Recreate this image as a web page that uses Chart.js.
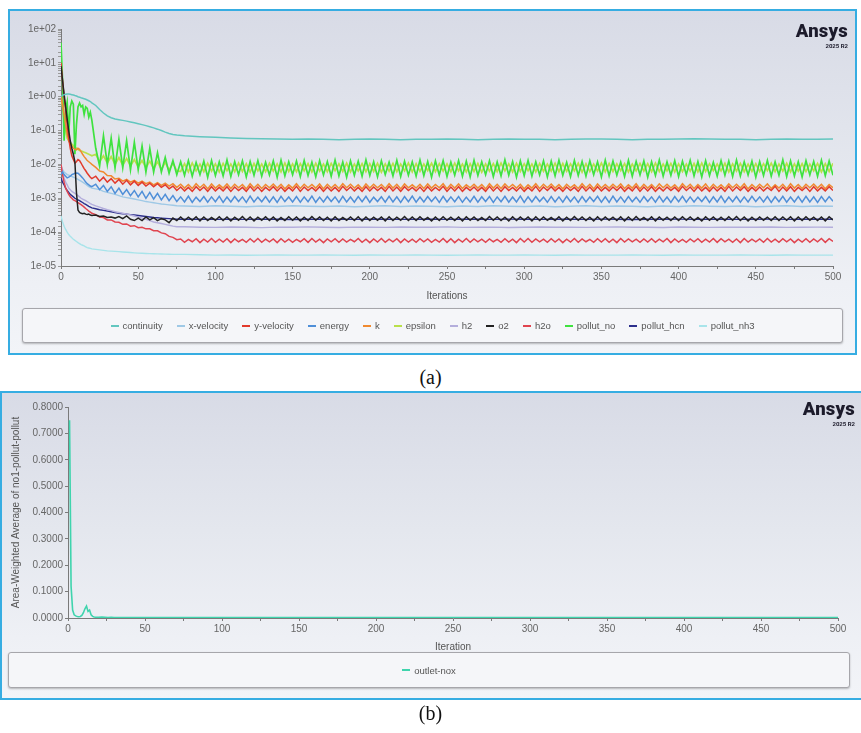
<!DOCTYPE html>
<html><head><meta charset="utf-8">
<script src="https://cdn.jsdelivr.net/npm/chart.js@4.4.1/dist/chart.umd.min.js"></script>
<style>
html,body{margin:0;padding:0;background:#fff;}
body{width:861px;height:733px;position:relative;overflow:hidden;font-family:"Liberation Sans",Arial,sans-serif;}
.frame{position:absolute;box-sizing:border-box;border:2px solid #36ade2;background:linear-gradient(180deg,#d8dbe6 0%,#e4e7ee 45%,#eef0f5 80%,#f2f4f8 100%);}
.frame canvas{position:absolute;left:0;top:0;}
.legend{position:absolute;box-sizing:border-box;border:1.5px solid #a6a6ab;border-radius:3px;background:#f5f6f9;box-shadow:0 1px 2px rgba(0,0,0,0.25);display:flex;align-items:center;justify-content:center;font-size:9.5px;color:#555;white-space:nowrap;}
.legend span{display:inline-flex;align-items:center;margin:0 7px;}
.legend i{display:inline-block;width:8px;height:2px;margin-right:4px;}
.logo{position:absolute;text-align:right;color:#1c1b2b;font-family:Roboto,"Liberation Sans",sans-serif;font-weight:900;line-height:1;}
.caption{position:absolute;left:0;width:861px;text-align:center;font-family:"Liberation Serif",serif;font-size:20px;color:#111;line-height:1;}
</style></head>
<body>
<div class="frame" id="frameA" style="left:8px;top:9px;width:849px;height:346px;"><canvas id="chartA" width="845" height="342"></canvas></div>
<div class="legend" id="legendA" style="left:22px;top:308px;width:821px;height:35px;"></div>
<div class="logo" style="right:13px;top:22px;font-size:18.5px;letter-spacing:0.2px;">Ansys</div>
<div class="logo" style="right:13px;top:43px;font-size:6px;font-weight:700;">2025 R2</div>
<div class="caption" style="top:367px;">(a)</div>

<div class="frame" id="frameB" style="left:0px;top:391px;width:861px;height:309px;border-right:none;"><canvas id="chartB" width="859" height="305"></canvas></div>
<div class="legend" id="legendB" style="left:8px;top:652px;width:842px;height:36px;"></div>
<div class="logo" style="right:6px;top:400px;font-size:18.5px;letter-spacing:0.2px;">Ansys</div>
<div class="logo" style="right:6px;top:421px;font-size:6px;font-weight:700;">2025 R2</div>
<div class="caption" style="top:703px;">(b)</div>

<script>
// ---------- chart (a): residuals ----------
const seriesNames = ['continuity','x-velocity','y-velocity','energy','k','epsilon','h2','o2','h2o','pollut_no','pollut_hcn','pollut_nh3'];
const seriesColors = ['#62c6bf','#9fc9e6','#e23a2c','#4f8fd8','#f08a30','#b9e04a','#b4aedc','#222222','#e0444f','#3fe23f','#2c2f8c','#a8e4ea'];

const iterations = [0,1,2,3,4,5,6,7,8,9,10,11,12,13,14,15,16,17,18,19,20,
22.5,25,27.5,30,32.5,35,37.5,40,42.5,45,47.5,50,52.5,55,57.5,60,62.5,65,67.5,70,72.5,75,
77.5,80,82.5,85,87.5,90,92.5,95,97.5,100,
102.5,105,107.5,110,112.5,115,117.5,120,122.5,125,
127.5,130,132.5,135,137.5,140,142.5,145,147.5,150,
152.5,155,157.5,160,162.5,165,167.5,170,172.5,175,
177.5,180,182.5,185,187.5,190,192.5,195,197.5,200,
202.5,205,207.5,210,212.5,215,217.5,220,222.5,225,
227.5,230,232.5,235,237.5,240,242.5,245,247.5,250,
252.5,255,257.5,260,262.5,265,267.5,270,272.5,275,
277.5,280,282.5,285,287.5,290,292.5,295,297.5,300,
302.5,305,307.5,310,312.5,315,317.5,320,322.5,325,
327.5,330,332.5,335,337.5,340,342.5,345,347.5,350,
352.5,355,357.5,360,362.5,365,367.5,370,372.5,375,
377.5,380,382.5,385,387.5,390,392.5,395,397.5,400,
402.5,405,407.5,410,412.5,415,417.5,420,422.5,425,
427.5,430,432.5,435,437.5,440,442.5,445,447.5,450,
452.5,455,457.5,460,462.5,465,467.5,470,472.5,475,
477.5,480,482.5,485,487.5,490,492.5,495,497.5,500];

const iterationsSmooth = [0,1,2,3,4,5,6,7,8,9,10,11,12,13,14,15,16,17,18,19,20,
22.5,25,27.5,30,32.5,35,37.5,40,42.5,45,47.5,50,52.5,55,57.5,60,62.5,65,67.5,70,72.5,75,
80,90,100,110,120,130,140,150,160,170,180,190,200,210,220,230,240,250,260,270,280,290,300,
310,320,330,340,350,360,370,380,390,400,410,420,430,440,450,460,470,480,490,500];

// smooth-grid series
const continuityRes = [1.05,1.1,1.15,1.18,1.2,1.2,1.18,1.15,1.12,1.08,1.05,1.0,0.97,0.93,0.9,0.87,0.84,0.8,0.76,0.72,0.66,
0.55,0.42,0.33,0.27,0.24,0.22,0.21,0.2,0.19,0.18,0.17,0.16,0.15,0.14,0.13,0.12,0.11,0.1,0.09,0.082,0.077,0.074,
0.07,0.066,0.063,0.06,0.058,0.057,0.056,0.055,0.056,0.055,0.054,0.055,0.056,0.055,0.054,0.055,0.055,0.056,0.055,0.054,
0.055,0.056,0.055,0.055,0.054,0.055,0.056,0.056,0.055,0.054,0.055,0.055,0.056,0.057,0.056,0.055,0.055,0.054,0.055,0.056,
0.055,0.055,0.056];

const xVelocityRes = [0.009,0.007,0.006,0.0055,0.005,0.0048,0.0046,0.0044,0.0042,0.004,0.0038,0.0036,0.0034,0.0032,0.003,0.0028,0.0026,0.0024,0.0022,0.0021,0.002,
0.0019,0.0018,0.0016,0.0015,0.0014,0.0013,0.0012,0.0011,0.00105,0.001,0.00095,0.0009,0.00085,0.0008,0.00077,0.00074,0.00071,0.00068,0.00066,0.00064,0.00062,0.0006,
5.9e-4,5.7e-4,6.0e-4,5.8e-4,5.6e-4,5.9e-4,5.7e-4,6.0e-4,5.8e-4,5.7e-4,5.9e-4,5.6e-4,5.8e-4,6.0e-4,5.7e-4,5.9e-4,5.8e-4,5.6e-4,5.9e-4,5.7e-4,
6.0e-4,5.8e-4,5.7e-4,5.9e-4,5.6e-4,5.8e-4,6.0e-4,5.7e-4,5.9e-4,5.8e-4,5.6e-4,5.9e-4,5.7e-4,6.0e-4,5.8e-4,5.7e-4,5.9e-4,5.6e-4,5.8e-4,6.0e-4,
5.7e-4,5.9e-4,5.8e-4];

const h2Res = [0.01,0.006,0.004,0.003,0.0025,0.002,0.0018,0.0016,0.0015,0.0014,0.0013,0.0012,0.0011,0.001,9.5e-4,9e-4,8.5e-4,8e-4,7.5e-4,7e-4,6.6e-4,
6e-4,5.5e-4,5e-4,4.6e-4,4.3e-4,4e-4,3.8e-4,3.6e-4,3.4e-4,3.2e-4,3e-4,2.8e-4,2.6e-4,2.4e-4,2.2e-4,2e-4,1.9e-4,1.8e-4,1.7e-4,1.6e-4,1.5e-4,1.45e-4,
1.45e-4,1.4e-4,1.38e-4,1.42e-4,1.4e-4,1.36e-4,1.41e-4,1.39e-4,1.43e-4,1.4e-4,1.37e-4,1.41e-4,1.4e-4,1.38e-4,1.42e-4,1.39e-4,1.4e-4,1.43e-4,1.38e-4,1.4e-4,
1.41e-4,1.37e-4,1.4e-4,1.42e-4,1.39e-4,1.4e-4,1.38e-4,1.41e-4,1.43e-4,1.39e-4,1.4e-4,1.37e-4,1.42e-4,1.4e-4,1.38e-4,1.41e-4,1.39e-4,1.4e-4,1.42e-4,1.38e-4,
1.4e-4,1.41e-4,1.39e-4];

const pollutHcnRes = [0.004,0.003,0.0025,0.002,0.0017,0.0015,0.0013,0.0012,0.0011,0.001,9.5e-4,9e-4,8.5e-4,8e-4,7.5e-4,7e-4,6.6e-4,6.2e-4,5.8e-4,5.5e-4,5.2e-4,
4.9e-4,4.6e-4,4.4e-4,4.2e-4,4e-4,3.8e-4,3.6e-4,3.5e-4,3.4e-4,3.3e-4,3.2e-4,3.1e-4,3e-4,2.9e-4,2.8e-4,2.7e-4,2.65e-4,2.6e-4,2.55e-4,2.5e-4,2.45e-4,2.4e-4,
2.4e-4,2.42e-4,2.38e-4,2.41e-4,2.39e-4,2.43e-4,2.4e-4,2.37e-4,2.41e-4,2.4e-4,2.42e-4,2.38e-4,2.4e-4,2.41e-4,2.39e-4,2.4e-4,2.43e-4,2.38e-4,2.4e-4,2.41e-4,
2.39e-4,2.42e-4,2.4e-4,2.38e-4,2.41e-4,2.4e-4,2.39e-4,2.42e-4,2.4e-4,2.37e-4,2.41e-4,2.4e-4,2.42e-4,2.39e-4,2.4e-4,2.41e-4,2.38e-4,2.4e-4,2.42e-4,2.39e-4,
2.4e-4,2.41e-4,2.4e-4];

const pollutNh3Res = [3e-4,2e-4,1.5e-4,1.2e-4,1e-4,8.5e-5,7.5e-5,6.8e-5,6.2e-5,5.7e-5,5.3e-5,4.9e-5,4.6e-5,4.3e-5,4.1e-5,3.9e-5,3.7e-5,3.5e-5,3.4e-5,3.3e-5,3.2e-5,
3.1e-5,3e-5,2.9e-5,2.8e-5,2.75e-5,2.7e-5,2.65e-5,2.6e-5,2.55e-5,2.5e-5,2.45e-5,2.4e-5,2.38e-5,2.35e-5,2.32e-5,2.3e-5,2.28e-5,2.26e-5,2.24e-5,2.22e-5,2.21e-5,2.2e-5,
2.2e-5,2.15e-5,2.1e-5,2.12e-5,2.08e-5,2.1e-5,2.11e-5,2.09e-5,2.1e-5,2.12e-5,2.1e-5,2.08e-5,2.11e-5,2.1e-5,2.09e-5,2.12e-5,2.1e-5,2.08e-5,2.1e-5,2.11e-5,
2.09e-5,2.1e-5,2.12e-5,2.1e-5,2.08e-5,2.11e-5,2.1e-5,2.09e-5,2.1e-5,2.12e-5,2.1e-5,2.08e-5,2.11e-5,2.1e-5,2.09e-5,2.1e-5,2.12e-5,2.1e-5,2.08e-5,2.11e-5,
2.1e-5,2.09e-5,2.1e-5];

// dense-grid series
const pollutNoRes = [40,3,0.05,0.4,0.7,0.08,0.5,0.75,0.6,0.02,0.15,0.5,0.65,0.5,0.55,0.3,0.5,0.45,0.25,0.35,0.2,
0.03,0.009,0.07,0.01,0.06,0.008,0.055,0.008,0.05,0.007,0.045,0.007,0.035,0.006,0.03,0.006,0.022,0.006,0.016,0.0055,0.013,0.005,
0.012,0.0048,0.013,0.0045,0.0115,0.005,0.0125,0.0042,0.013,0.0047,
0.0118,0.0046,0.0135,0.0044,0.012,0.005,0.0128,0.0043,0.0122,0.0048,
0.013,0.0045,0.0116,0.0049,0.0127,0.0042,0.0133,0.0046,0.0119,0.005,
0.0126,0.0044,0.0131,0.0047,0.0117,0.0043,0.0129,0.0049,0.0121,0.0045,
0.0134,0.0046,0.0118,0.0042,0.0127,0.0048,0.0123,0.0045,0.0136,0.0047,
0.012,0.0043,0.0128,0.005,0.0116,0.0046,0.0132,0.0044,0.0124,0.0048,
0.0119,0.0045,0.0135,0.0047,0.0122,0.0042,0.0127,0.0049,0.013,0.0044,
0.0117,0.0048,0.0129,0.0045,0.0125,0.0043,0.0133,0.0047,0.012,0.005,
0.0128,0.0044,0.0118,0.0046,0.0136,0.0048,0.0121,0.0042,0.0126,0.0047,
0.0131,0.0045,0.0119,0.0049,0.0127,0.0043,0.0124,0.0046,0.0134,0.0048,
0.0116,0.0044,0.013,0.0047,0.0122,0.0045,0.0128,0.005,0.0119,0.0043,
0.0133,0.0046,0.0125,0.0048,0.0117,0.0044,0.0131,0.0045,0.0123,0.0049,
0.0127,0.0042,0.012,0.0047,0.0135,0.0045,0.0118,0.0048,0.0129,0.0044,
0.0124,0.005,0.0132,0.0046,0.0121,0.0043,0.0128,0.0047,0.0116,0.0045,
0.013,0.0048,0.0126,0.0044,0.0134,0.0046,0.0119,0.0049,0.0125,0.0042,
0.0122,0.0047,0.0131,0.0045,0.0118,0.0048,0.0136,0.0044,0.0127,0.0046,
0.012,0.0043,0.0129,0.0049,0.0123,0.0045,0.0133,0.0047,0.0126,0.0048];

const epsilonRes = [1.0,0.5,0.2,0.1,0.06,0.05,0.045,0.04,0.036,0.033,0.03,0.028,0.026,0.025,0.024,0.023,0.022,0.021,0.02,0.019,0.018,
0.02,0.012,0.018,0.011,0.017,0.01,0.016,0.0095,0.015,0.009,0.014,0.0085,0.013,0.008,0.0125,0.0075,0.012,0.007,0.0115,0.0068,0.011,0.0065,
0.0062,0.0105,0.006,0.011,0.0064,0.0102,0.0061,0.0108,0.0063,0.0104,
0.006,0.0107,0.0065,0.0103,0.0061,0.0109,0.0062,0.0105,0.0059,0.0106,
0.0064,0.0102,0.0061,0.0108,0.0063,0.0104,0.006,0.011,0.0062,0.0103,
0.0061,0.0106,0.0064,0.0105,0.006,0.0108,0.0063,0.0102,0.0061,0.0107,
0.0065,0.0104,0.0062,0.0109,0.006,0.0103,0.0064,0.0106,0.0061,0.0105,
0.0062,0.0108,0.0059,0.0104,0.0063,0.0107,0.0061,0.0102,0.0064,0.011,
0.006,0.0105,0.0062,0.0103,0.0065,0.0108,0.0061,0.0106,0.0063,0.0104,
0.0061,0.0109,0.0064,0.0102,0.006,0.0105,0.0062,0.0107,0.0059,0.0103,
0.0063,0.0106,0.0061,0.011,0.0064,0.0104,0.006,0.0108,0.0062,0.0105,
0.0065,0.0103,0.006,0.0107,0.0062,0.0102,0.0063,0.0109,0.0061,0.0106,
0.0062,0.0104,0.0064,0.0108,0.0059,0.0105,0.0061,0.0103,0.0063,0.011,
0.006,0.0107,0.0062,0.0104,0.0065,0.0106,0.006,0.0102,0.0064,0.0108,
0.0063,0.0105,0.0061,0.0109,0.0062,0.0103,0.0064,0.0107,0.006,0.0104,
0.0061,0.0102,0.0063,0.0106,0.006,0.011,0.0062,0.0105,0.0065,0.0103,
0.0064,0.0108,0.006,0.0104,0.0063,0.0107,0.0061,0.0102,0.0062,0.0106,
0.0062,0.0105,0.0065,0.0109,0.0061,0.0103,0.0063,0.0108,0.006,0.0104,
0.0063,0.0106,0.0061,0.0102,0.0064,0.0107,0.006,0.0105,0.0062,0.0108];

const kRes = [1.0,0.6,0.3,0.15,0.08,0.05,0.04,0.035,0.03,0.028,0.027,0.03,0.028,0.024,0.02,0.017,0.015,0.013,0.012,0.011,0.01,
0.0082,0.0064,0.006,0.0047,0.0046,0.0037,0.0039,0.0032,0.0036,0.003,0.0034,0.0028,0.0032,0.0027,0.003,0.0025,0.0029,0.0024,0.0028,0.0023,0.0027,0.0021,
2.6e-3,2.0e-3,2.55e-3,1.95e-3,2.7e-3,2.05e-3,2.6e-3,1.9e-3,2.65e-3,2.0e-3,
2.5e-3,2.0e-3,2.65e-3,1.95e-3,2.6e-3,2.05e-3,2.55e-3,1.9e-3,2.7e-3,2.0e-3,
2.6e-3,1.95e-3,2.55e-3,2.05e-3,2.65e-3,2.0e-3,2.6e-3,1.9e-3,2.5e-3,2.0e-3,
2.7e-3,1.95e-3,2.6e-3,2.05e-3,2.55e-3,2.0e-3,2.65e-3,1.9e-3,2.6e-3,2.0e-3,
2.55e-3,1.95e-3,2.7e-3,2.05e-3,2.6e-3,2.0e-3,2.5e-3,1.9e-3,2.65e-3,2.0e-3,
2.6e-3,2.05e-3,2.55e-3,1.95e-3,2.7e-3,2.0e-3,2.6e-3,1.9e-3,2.65e-3,2.05e-3,
2.5e-3,2.0e-3,2.6e-3,1.95e-3,2.65e-3,2.0e-3,2.55e-3,2.05e-3,2.7e-3,1.9e-3,
2.6e-3,2.0e-3,2.65e-3,1.95e-3,2.5e-3,2.05e-3,2.6e-3,2.0e-3,2.55e-3,1.9e-3,
2.7e-3,2.0e-3,2.6e-3,1.95e-3,2.65e-3,2.05e-3,2.55e-3,2.0e-3,2.6e-3,1.9e-3,
2.5e-3,2.0e-3,2.7e-3,1.95e-3,2.6e-3,2.05e-3,2.65e-3,2.0e-3,2.55e-3,1.9e-3,
2.6e-3,2.05e-3,2.5e-3,1.95e-3,2.7e-3,2.0e-3,2.6e-3,1.9e-3,2.65e-3,2.0e-3,
2.55e-3,2.0e-3,2.6e-3,2.05e-3,2.65e-3,1.95e-3,2.5e-3,2.0e-3,2.7e-3,1.9e-3,
2.6e-3,2.0e-3,2.55e-3,1.95e-3,2.65e-3,2.05e-3,2.6e-3,2.0e-3,2.5e-3,1.9e-3,
2.7e-3,2.05e-3,2.6e-3,1.95e-3,2.55e-3,2.0e-3,2.65e-3,1.9e-3,2.6e-3,2.0e-3,
2.5e-3,1.95e-3,2.65e-3,2.05e-3,2.6e-3,2.0e-3,2.7e-3,1.9e-3,2.55e-3,2.0e-3,
2.6e-3,2.05e-3,2.65e-3,1.95e-3,2.5e-3,2.0e-3,2.6e-3,1.9e-3,2.7e-3,2.0e-3,
2.55e-3,1.95e-3,2.6e-3,2.05e-3,2.65e-3,2.0e-3,2.6e-3,1.9e-3,2.55e-3,2.05e-3];

const yVelocityRes = [10,3,1,0.4,0.15,0.06,0.03,0.018,0.014,0.011,0.012,0.014,0.013,0.011,0.009,0.0075,0.0065,0.0055,0.0048,0.0042,0.0038,
0.0045,0.0032,0.0042,0.003,0.0038,0.0028,0.0036,0.0026,0.0034,0.0025,0.0032,0.0024,0.003,0.0023,0.0028,0.0022,0.0027,0.0021,0.0025,0.0019,0.0023,0.0017,
2.15e-3,1.65e-3,2.1e-3,1.6e-3,2.2e-3,1.7e-3,2.15e-3,1.6e-3,2.2e-3,1.65e-3,
2.1e-3,1.65e-3,2.2e-3,1.6e-3,2.15e-3,1.7e-3,2.1e-3,1.6e-3,2.25e-3,1.65e-3,
2.15e-3,1.6e-3,2.1e-3,1.7e-3,2.2e-3,1.65e-3,2.15e-3,1.6e-3,2.1e-3,1.65e-3,
2.25e-3,1.6e-3,2.15e-3,1.7e-3,2.1e-3,1.65e-3,2.2e-3,1.6e-3,2.15e-3,1.65e-3,
2.1e-3,1.6e-3,2.25e-3,1.7e-3,2.15e-3,1.65e-3,2.1e-3,1.6e-3,2.2e-3,1.65e-3,
2.15e-3,1.7e-3,2.1e-3,1.6e-3,2.25e-3,1.65e-3,2.15e-3,1.6e-3,2.2e-3,1.7e-3,
2.1e-3,1.65e-3,2.15e-3,1.6e-3,2.2e-3,1.65e-3,2.1e-3,1.7e-3,2.25e-3,1.6e-3,
2.15e-3,1.65e-3,2.2e-3,1.6e-3,2.1e-3,1.7e-3,2.15e-3,1.65e-3,2.1e-3,1.6e-3,
2.25e-3,1.65e-3,2.15e-3,1.6e-3,2.2e-3,1.7e-3,2.1e-3,1.65e-3,2.15e-3,1.6e-3,
2.1e-3,1.65e-3,2.25e-3,1.6e-3,2.15e-3,1.7e-3,2.2e-3,1.65e-3,2.1e-3,1.6e-3,
2.15e-3,1.7e-3,2.1e-3,1.6e-3,2.25e-3,1.65e-3,2.15e-3,1.6e-3,2.2e-3,1.65e-3,
2.1e-3,1.65e-3,2.15e-3,1.7e-3,2.2e-3,1.6e-3,2.1e-3,1.65e-3,2.25e-3,1.6e-3,
2.15e-3,1.65e-3,2.2e-3,1.6e-3,2.1e-3,1.65e-3,2.15e-3,1.7e-3,2.1e-3,1.6e-3,
2.25e-3,1.7e-3,2.15e-3,1.6e-3,2.2e-3,1.65e-3,2.1e-3,1.6e-3,2.15e-3,1.65e-3,
2.1e-3,1.6e-3,2.25e-3,1.65e-3,2.15e-3,1.7e-3,2.2e-3,1.6e-3,2.1e-3,1.65e-3,
2.15e-3,1.65e-3,2.1e-3,1.7e-3,2.25e-3,1.6e-3,2.15e-3,1.65e-3,2.2e-3,1.6e-3,
2.1e-3,1.7e-3,2.15e-3,1.6e-3,2.2e-3,1.65e-3,2.1e-3,1.65e-3,2.2e-3,1.7e-3];

const energyRes = [0.005,0.006,0.005,0.0045,0.004,0.0042,0.0045,0.005,0.0052,0.0055,0.0056,0.0055,0.005,0.0045,0.004,0.0035,0.003,0.0027,0.0025,0.0023,0.0022,
0.0026,0.0018,0.0024,0.0016,0.0022,0.0014,0.002,0.0013,0.0018,0.0012,0.0017,0.0011,0.0016,0.001,0.0015,0.00095,0.0014,0.0009,0.0013,0.00085,0.0012,0.0008,
1.1e-3,7.8e-4,1.15e-3,7.6e-4,1.08e-3,8e-4,1.12e-3,7.7e-4,1.1e-3,7.9e-4,
1.14e-3,7.6e-4,1.09e-3,7.8e-4,1.12e-3,8e-4,1.1e-3,7.6e-4,1.16e-3,7.8e-4,
1.08e-3,7.9e-4,1.13e-3,7.7e-4,1.1e-3,7.6e-4,1.15e-3,8e-4,1.09e-3,7.8e-4,
1.12e-3,7.7e-4,1.1e-3,7.9e-4,1.16e-3,7.6e-4,1.08e-3,7.8e-4,1.13e-3,8e-4,
1.1e-3,7.6e-4,1.14e-3,7.8e-4,1.09e-3,7.7e-4,1.12e-3,7.9e-4,1.15e-3,7.6e-4,
1.08e-3,8e-4,1.11e-3,7.7e-4,1.14e-3,7.8e-4,1.1e-3,7.6e-4,1.12e-3,7.9e-4,
1.16e-3,7.7e-4,1.09e-3,7.8e-4,1.12e-3,8e-4,1.1e-3,7.6e-4,1.14e-3,7.8e-4,
1.1e-3,7.9e-4,1.13e-3,7.6e-4,1.08e-3,7.8e-4,1.15e-3,7.7e-4,1.11e-3,8e-4,
1.12e-3,7.6e-4,1.1e-3,7.9e-4,1.14e-3,7.7e-4,1.09e-3,7.8e-4,1.16e-3,7.6e-4,
1.1e-3,7.8e-4,1.12e-3,8e-4,1.08e-3,7.6e-4,1.13e-3,7.8e-4,1.1e-3,7.7e-4,
1.15e-3,7.9e-4,1.1e-3,7.6e-4,1.12e-3,7.8e-4,1.09e-3,8e-4,1.14e-3,7.7e-4,
1.11e-3,7.6e-4,1.16e-3,7.8e-4,1.1e-3,7.7e-4,1.13e-3,7.9e-4,1.08e-3,7.6e-4,
1.12e-3,8e-4,1.1e-3,7.7e-4,1.15e-3,7.8e-4,1.09e-3,7.6e-4,1.12e-3,7.9e-4,
1.14e-3,7.7e-4,1.1e-3,7.8e-4,1.08e-3,8e-4,1.13e-3,7.6e-4,1.11e-3,7.8e-4,
1.16e-3,7.6e-4,1.09e-3,7.9e-4,1.12e-3,7.7e-4,1.1e-3,7.8e-4,1.15e-3,8e-4,
1.1e-3,7.8e-4,1.13e-3,7.6e-4,1.11e-3,7.9e-4,1.14e-3,7.7e-4,1.09e-3,7.8e-4,
1.12e-3,7.7e-4,1.15e-3,7.8e-4,1.1e-3,7.6e-4,1.13e-3,7.9e-4,1.12e-3,8.2e-4];

const o2Res = [8,3,1.2,0.5,0.22,0.1,0.05,0.03,0.02,0.012,0.0015,4.5e-4,3.8e-4,3.6e-4,3.5e-4,3.6e-4,3.4e-4,3.3e-4,3.4e-4,3.2e-4,3.1e-4,
3.2e-4,2.9e-4,3.0e-4,2.7e-4,2.8e-4,2.6e-4,2.9e-4,2.5e-4,3.0e-4,2.4e-4,2.2e-4,2.6e-4,2.2e-4,2.8e-4,2.3e-4,2.7e-4,2.2e-4,2.5e-4,2.3e-4,1.9e-4,2.6e-4,2.2e-4,
2.8e-4,2.2e-4,2.75e-4,2.25e-4,2.85e-4,2.15e-4,2.8e-4,2.2e-4,2.7e-4,2.25e-4,
2.85e-4,2.2e-4,2.8e-4,2.15e-4,2.75e-4,2.25e-4,2.9e-4,2.2e-4,2.8e-4,2.15e-4,
2.75e-4,2.25e-4,2.85e-4,2.2e-4,2.8e-4,2.15e-4,2.7e-4,2.2e-4,2.85e-4,2.25e-4,
2.8e-4,2.15e-4,2.75e-4,2.2e-4,2.9e-4,2.25e-4,2.8e-4,2.2e-4,2.75e-4,2.15e-4,
2.85e-4,2.2e-4,2.7e-4,2.25e-4,2.8e-4,2.2e-4,2.85e-4,2.15e-4,2.8e-4,2.2e-4,
2.75e-4,2.25e-4,2.8e-4,2.15e-4,2.85e-4,2.2e-4,2.75e-4,2.25e-4,2.9e-4,2.2e-4,
2.8e-4,2.2e-4,2.85e-4,2.25e-4,2.7e-4,2.15e-4,2.8e-4,2.2e-4,2.85e-4,2.25e-4,
2.75e-4,2.2e-4,2.8e-4,2.15e-4,2.85e-4,2.25e-4,2.8e-4,2.2e-4,2.7e-4,2.2e-4,
2.9e-4,2.25e-4,2.8e-4,2.2e-4,2.75e-4,2.15e-4,2.85e-4,2.2e-4,2.8e-4,2.25e-4,
2.8e-4,2.15e-4,2.85e-4,2.2e-4,2.8e-4,2.25e-4,2.7e-4,2.2e-4,2.85e-4,2.15e-4,
2.75e-4,2.2e-4,2.9e-4,2.25e-4,2.8e-4,2.2e-4,2.75e-4,2.15e-4,2.85e-4,2.2e-4,
2.8e-4,2.25e-4,2.75e-4,2.2e-4,2.85e-4,2.15e-4,2.8e-4,2.2e-4,2.9e-4,2.25e-4,
2.7e-4,2.2e-4,2.85e-4,2.15e-4,2.8e-4,2.25e-4,2.75e-4,2.2e-4,2.8e-4,2.2e-4,
2.85e-4,2.25e-4,2.8e-4,2.2e-4,2.7e-4,2.15e-4,2.85e-4,2.25e-4,2.8e-4,2.2e-4,
2.75e-4,2.2e-4,2.85e-4,2.25e-4,2.9e-4,2.2e-4,2.8e-4,2.15e-4,2.75e-4,2.2e-4,
2.8e-4,2.25e-4,2.75e-4,2.2e-4,2.85e-4,2.2e-4,2.8e-4,2.25e-4,2.85e-4,2.15e-4,
2.8e-4,2.2e-4,2.85e-4,2.25e-4,2.75e-4,2.2e-4,2.8e-4,2.15e-4,2.85e-4,2.3e-4];

const h2oRes = [0.01,0.005,0.003,0.002,0.0016,0.0013,0.0011,0.001,9e-4,8.5e-4,8e-4,7.5e-4,7e-4,6.5e-4,6e-4,5.5e-4,5e-4,4.6e-4,4.2e-4,3.9e-4,3.6e-4,
3.3e-4,2.8e-4,2.7e-4,2.3e-4,2.3e-4,2e-4,1.95e-4,1.7e-4,1.75e-4,1.5e-4,1.55e-4,1.35e-4,1.4e-4,1.25e-4,1.25e-4,1.1e-4,1.1e-4,9.5e-5,9e-5,7.5e-5,7e-5,6e-5,
6.3e-5,5e-5,6.1e-5,5.2e-5,6.4e-5,4.9e-5,6.2e-5,5.1e-5,6.5e-5,5e-5,
6.2e-5,5.1e-5,6.4e-5,4.9e-5,6.3e-5,5.2e-5,6.1e-5,5e-5,6.4e-5,5.1e-5,
6.5e-5,5e-5,6.2e-5,5.2e-5,6.3e-5,4.9e-5,6.4e-5,5.1e-5,6.2e-5,5e-5,
6.1e-5,5.2e-5,6.4e-5,5e-5,6.5e-5,5.1e-5,6.2e-5,4.9e-5,6.3e-5,5.2e-5,
6.4e-5,5e-5,6.3e-5,5.1e-5,6.1e-5,5.2e-5,6.5e-5,5e-5,6.2e-5,4.9e-5,
6.3e-5,5.1e-5,6.5e-5,5e-5,6.2e-5,5.2e-5,6.4e-5,4.9e-5,6.3e-5,5.1e-5,
6.2e-5,5e-5,6.4e-5,5.2e-5,6.3e-5,5e-5,6.1e-5,5.1e-5,6.5e-5,5e-5,
6.4e-5,4.9e-5,6.2e-5,5.1e-5,6.5e-5,5e-5,6.3e-5,5.2e-5,6.2e-5,5e-5,
6.3e-5,5.2e-5,6.1e-5,5e-5,6.4e-5,5.1e-5,6.2e-5,4.9e-5,6.5e-5,5.1e-5,
6.5e-5,5e-5,6.3e-5,5.2e-5,6.2e-5,5e-5,6.4e-5,5.1e-5,6.3e-5,4.9e-5,
6.2e-5,5.1e-5,6.5e-5,5e-5,6.3e-5,5.2e-5,6.1e-5,5e-5,6.4e-5,5.1e-5,
6.4e-5,5e-5,6.2e-5,4.9e-5,6.5e-5,5.1e-5,6.3e-5,5.2e-5,6.2e-5,5e-5,
6.3e-5,5.1e-5,6.4e-5,5e-5,6.2e-5,5.2e-5,6.5e-5,4.9e-5,6.3e-5,5.1e-5,
6.1e-5,5e-5,6.3e-5,5.2e-5,6.4e-5,5e-5,6.2e-5,5.1e-5,6.5e-5,5e-5,
6.4e-5,5.2e-5,6.2e-5,5e-5,6.3e-5,4.9e-5,6.5e-5,5.1e-5,6.2e-5,5.2e-5,
6.3e-5,5e-5,6.5e-5,5.1e-5,6.2e-5,5e-5,6.4e-5,5.2e-5,6.3e-5,4.9e-5,
6.2e-5,5.1e-5,6.4e-5,5e-5,6.3e-5,5.2e-5,6.5e-5,5e-5,6.4e-5,5.3e-5];

// ---------- chart (b): report plot ----------
const iterationsB = [1,2,3,4,5,6,7,8,9,10,11,12,13,14,15,16,17,18,19,20,22,24,26,28,30,
40,50,60,70,80,90,100,110,120,130,140,150,160,170,180,190,200,210,220,230,240,250,260,270,280,290,300,
310,320,330,340,350,360,370,380,390,400,410,420,430,440,450,460,470,480,490,500];
const outletNox = [0.75,0.12,0.03,0.012,0.008,0.006,0.005,0.006,0.01,0.02,0.035,0.045,0.025,0.03,0.012,0.006,0.004,0.003,0.003,0.0025,
0.004,0.003,0.002,0.0025,0.002,
0.0018,0.0016,0.0015,0.0015,0.0014,0.0015,0.0014,0.0014,0.0015,0.0014,0.0014,0.0015,0.0014,0.0014,0.0015,0.0014,0.0014,0.0015,0.0014,0.0014,
0.0015,0.0014,0.0014,0.0015,0.0014,0.0014,0.0015,0.0014,0.0014,0.0015,0.0014,0.0014,0.0015,0.0014,0.0014,0.0015,0.0014,0.0014,0.0015,0.0014,
0.0014,0.0015,0.0014,0.0014,0.0015,0.0014,0.0014];
const seriesNameB = 'outlet-nox';
const seriesColorB = '#3fd4ad';
const xTicksLabelStep = 50;

// ---------- build ----------
const seriesValues = [continuityRes,xVelocityRes,yVelocityRes,energyRes,kRes,epsilonRes,h2Res,o2Res,h2oRes,pollutNoRes,pollutHcnRes,pollutNh3Res];
const seriesGrid   = [iterationsSmooth,iterationsSmooth,iterations,iterations,iterations,iterations,iterationsSmooth,iterations,iterations,iterations,iterationsSmooth,iterationsSmooth];
const drawOrder    = [0,9,2,4,3,6,8,1,7,5,10,11];
const lineWidths   = [1.5,1.4,1.5,1.5,1.5,1.7,1.4,1.5,1.5,1.7,1.4,1.4];

seriesValues.forEach((v,i)=>{ if (v.length !== seriesGrid[i].length) console.error('length mismatch', seriesNames[i], v.length, seriesGrid[i].length); });
if (outletNox.length !== iterationsB.length) console.error('length mismatch B', outletNox.length, iterationsB.length);

const FONT = '"Liberation Sans", Arial, sans-serif';
const tickColor = '#666';
const axisColor = '#7a7a7a';

function logLabel(v){
  const e = Math.log10(v); const r = Math.round(e);
  if (Math.abs(e - r) > 1e-6) return '';
  return '1e' + (r < 0 ? '-' : '+') + String(Math.abs(r)).padStart(2,'0');
}

const dsA = seriesNames.map((name,i)=>({
  label: name,
  data: seriesGrid[i].map((x,j)=>({x:x, y:seriesValues[i][j]})),
  borderColor: seriesColors[i],
  backgroundColor: seriesColors[i],
  borderWidth: lineWidths[i],
  pointRadius: 0,
  tension: 0,
  fill: false,
  order: drawOrder[i]
}));

function xAxis(titleText){
  return {
    type:'linear', min:0, max:500,
    ticks:{stepSize:25, autoSkip:false, maxRotation:0, padding:2, color:tickColor, font:{size:10,family:FONT},
      callback:(v)=> (v % xTicksLabelStep === 0 ? String(v) : '')},
    grid:{display:true, drawOnChartArea:false, drawTicks:true, tickLength:3, color:axisColor},
    border:{display:true, color:axisColor, width:1},
    title:{display:true, text:titleText, color:'#555', font:{size:10,family:FONT}, padding:{top:0,bottom:0}}
  };
}

new Chart(document.getElementById('chartA'), {
  type:'line',
  data:{datasets: dsA},
  options:{
    responsive:false, animation:false, events:[],
    layout:{padding:{left:0,right:22,top:18,bottom:51}},
    plugins:{legend:{display:false}, tooltip:{enabled:false}},
    scales:{
      x: Object.assign(xAxis('Iterations'), {afterFit:(s)=>{s.height=36;}}),
      y:{type:'logarithmic', min:1e-5, max:100,
        ticks:{autoSkip:false, padding:2, color:tickColor, font:{size:10,family:FONT}, callback:logLabel},
        grid:{display:true, drawOnChartArea:false, drawTicks:true, tickLength:3, color:'#9a9a9a'},
        border:{display:true, color:axisColor, width:1},
        afterFit:(s)=>{s.width=51;}
      }
    }
  }
});

new Chart(document.getElementById('chartB'), {
  type:'line',
  data:{datasets:[{
    label: seriesNameB,
    data: iterationsB.map((x,j)=>({x:x, y:outletNox[j]})),
    borderColor: seriesColorB, backgroundColor: seriesColorB,
    borderWidth: 1.6, pointRadius: 0, tension: 0, fill:false
  }]},
  options:{
    responsive:false, animation:false, events:[],
    layout:{padding:{left:0,right:23,top:14,bottom:45}},
    plugins:{legend:{display:false}, tooltip:{enabled:false}},
    scales:{
      x: Object.assign(xAxis('Iteration'), {afterFit:(s)=>{s.height=35;}}),
      y:{type:'linear', min:0, max:0.8,
        ticks:{stepSize:0.1, autoSkip:false, padding:2, color:tickColor, font:{size:10,family:FONT}, callback:(v)=>Number(v).toFixed(4)},
        grid:{display:true, drawOnChartArea:false, drawTicks:true, tickLength:3, color:axisColor},
        border:{display:true, color:axisColor, width:1},
        title:{display:true, text:'Area-Weighted Average of no1-pollut-pollut', color:'#555', font:{size:10,family:FONT}, padding:{top:8,bottom:0}},
        afterFit:(s)=>{s.width=66;}
      }
    }
  }
});

// HTML legends built from the series names/colours
function buildLegend(el, names, colors){
  names.forEach((n,i)=>{
    const s = document.createElement('span');
    const m = document.createElement('i'); m.style.background = colors[i];
    s.appendChild(m); s.appendChild(document.createTextNode(n));
    el.appendChild(s);
  });
}
buildLegend(document.getElementById('legendA'), seriesNames, seriesColors);
buildLegend(document.getElementById('legendB'), [seriesNameB], [seriesColorB]);
</script>
</body></html>
